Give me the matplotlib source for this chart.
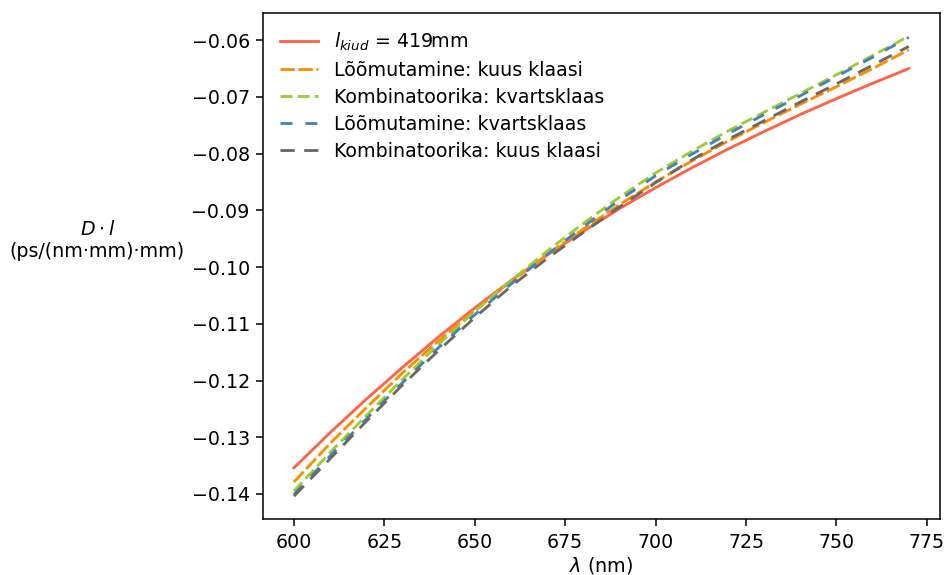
import matplotlib.pyplot as plt

# Wavelength grid (nm)
wavelength = [600, 610, 620, 630, 640, 650, 660, 670, 680, 690,
              700, 710, 720, 730, 740, 750, 760, 770]

# D*l values, ps/(nm*mm)*mm
fiber_419 = [-0.1354, -0.1292, -0.1233, -0.1177, -0.1123, -0.1072, -0.1024, -0.0979, -0.0937,
             -0.0897, -0.0860, -0.0825, -0.0792, -0.0761, -0.0731, -0.0703, -0.0676, -0.0650]
fit_six_glass = [-0.1379, -0.1311, -0.1248, -0.1187, -0.1130, -0.1076, -0.1026, -0.0978, -0.0933,
                 -0.0890, -0.0850, -0.0813, -0.0778, -0.0745, -0.0713, -0.0682, -0.0650, -0.0617]
comb_quartz = [-0.1395, -0.1327, -0.1262, -0.1198, -0.1136, -0.1078, -0.1024, -0.0972, -0.0923,
               -0.0877, -0.0834, -0.0796, -0.0760, -0.0727, -0.0694, -0.0661, -0.0627, -0.0593]
fit_quartz = [-0.1401, -0.1333, -0.1268, -0.1204, -0.1142, -0.1084, -0.1030, -0.0978, -0.0929,
              -0.0882, -0.0839, -0.0801, -0.0765, -0.0731, -0.0698, -0.0664, -0.0630, -0.0595]
comb_six_glass = [-0.1404, -0.1338, -0.1272, -0.1208, -0.1147, -0.1089, -0.1034, -0.0985, -0.0939,
                  -0.0894, -0.0851, -0.0811, -0.0775, -0.0742, -0.0709, -0.0677, -0.0644, -0.0611]

DPI = 137
fig = plt.figure(figsize=(950 / DPI, 575 / DPI), dpi=DPI)
ax = fig.add_axes([0.277, 0.097, 0.712, 0.880])

ax.plot(wavelength, fiber_419, color="tomato", lw=1.5, label="$l_{kiud}$ = 419mm")
ax.plot(wavelength, fit_six_glass, color="darkorange", lw=1.5, dashes=(5, 1.3),
        label="Lõõmutamine: kuus klaasi")
ax.plot(wavelength, comb_quartz, color="yellowgreen", lw=1.5, dashes=(4.2, 1.8),
        label="Kombinatoorika: kvartsklaas")
ax.plot(wavelength, fit_quartz, color="steelblue", lw=1.5, dashes=(4.2, 4.5),
        label="Lõõmutamine: kvartsklaas")
ax.plot(wavelength, comb_six_glass, color="dimgray", lw=1.5, dashes=(5, 3.3),
        label="Kombinatoorika: kuus klaasi")

ax.set_xticks([600, 625, 650, 675, 700, 725, 750, 775])
ax.set_xlabel(r"$\lambda$ (nm)", labelpad=2)
ax.set_ylabel("$D\\cdot l$\n(ps/(nm·mm)·mm)", rotation=0, ha="center", va="center")
ax.yaxis.set_label_coords(-0.245, 0.551)

ax.legend(loc="upper left", frameon=False, labelspacing=0.42)

fig.savefig("out.png", dpi=DPI)
